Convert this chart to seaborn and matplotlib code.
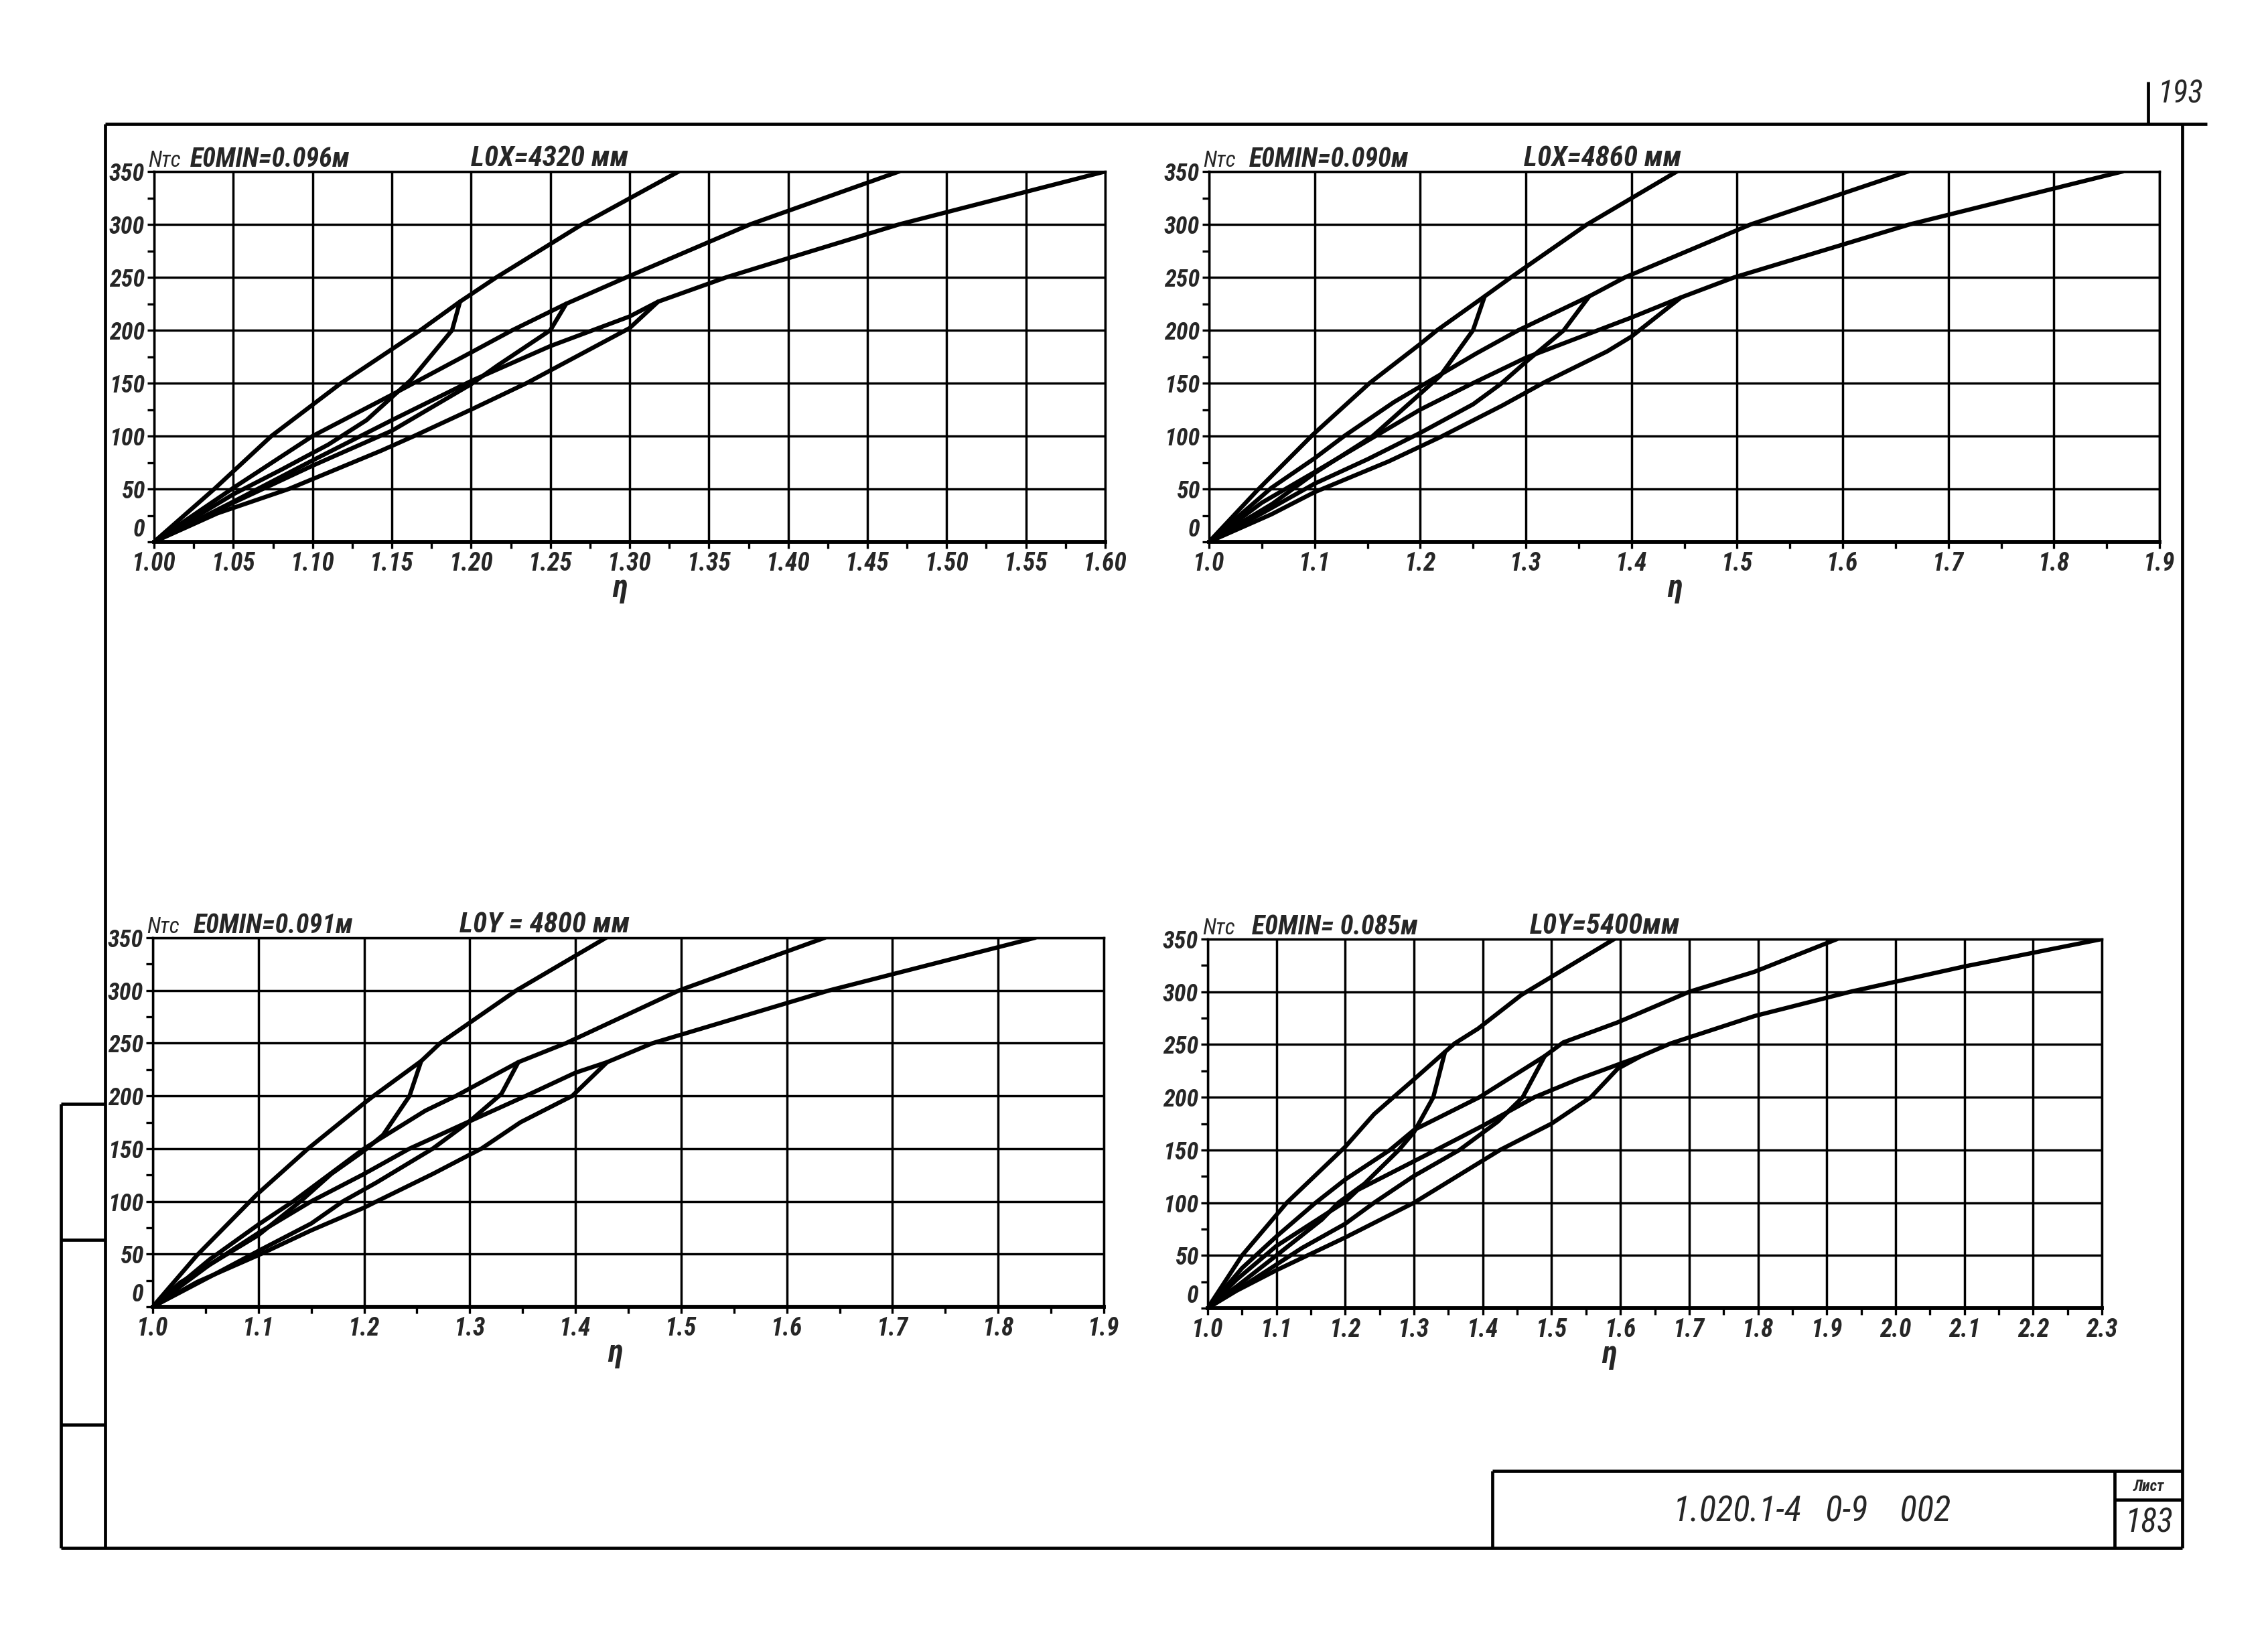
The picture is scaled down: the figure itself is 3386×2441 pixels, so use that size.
import matplotlib
matplotlib.use('Agg')
import numpy as np
import pandas as pd
import matplotlib.pyplot as plt
import seaborn as sns
from matplotlib import font_manager as fm
from matplotlib.ticker import FixedLocator, FormatStrFormatter

sns.set_style('white')

# узкий шрифт, если есть
avail = {f.name for f in fm.fontManager.ttflist}
FONT = 'DejaVu Sans'
for cand in ['Liberation Sans Narrow', 'DejaVu Sans Condensed', 'Roboto Condensed']:
    if cand in avail:
        FONT = cand
        break
plt.rcParams['font.family'] = [FONT, 'DejaVu Sans']

# ---------------- данные (N, тс  vs  eta) ----------------
# панель 1: E0MIN=0.096м, L0X=4320 мм
P1_A_UP_ETA = [1.0, 1.038, 1.074, 1.118, 1.168, 1.193, 1.216, 1.27, 1.331]
P1_A_UP_N = [0, 50, 100, 150, 200, 227, 250, 300, 350]
P1_A_LOW_ETA = [1.0, 1.05, 1.08, 1.11, 1.134, 1.162, 1.188, 1.193]
P1_A_LOW_N = [0, 45, 68, 92, 115, 153, 200, 227]
P1_B_UP_ETA = [1.0, 1.05, 1.10, 1.15, 1.20, 1.226, 1.26, 1.298, 1.376, 1.47]
P1_B_UP_N = [0, 51, 100, 139, 179, 200, 225, 250, 300, 350]
P1_B_LOW_ETA = [1.0, 1.05, 1.10, 1.15, 1.20, 1.217, 1.25, 1.26]
P1_B_LOW_N = [0, 37, 72, 105, 149, 167, 200, 225]
P1_C_UP_ETA = [1.0, 1.05, 1.10, 1.15, 1.20, 1.25, 1.30, 1.318, 1.361, 1.40, 1.47, 1.60]
P1_C_UP_N = [0, 38, 77, 115, 152, 185, 213, 227, 250, 268, 300, 350]
P1_C_LOW_ETA = [1.0, 1.04, 1.085, 1.143, 1.164, 1.20, 1.235, 1.25, 1.30, 1.318]
P1_C_LOW_N = [0, 27, 50, 86, 100, 125, 150, 162, 202, 227]

# панель 2: E0MIN=0.090м, L0X=4860 мм
P2_A_UP_ETA = [1.0, 1.046, 1.098, 1.152, 1.20, 1.216, 1.261, 1.286, 1.358, 1.443]
P2_A_UP_N = [0, 49, 101, 150, 187, 200, 232, 250, 300, 350]
P2_A_LOW_ETA = [1.0, 1.06, 1.10, 1.155, 1.20, 1.219, 1.25, 1.261]
P2_A_LOW_N = [0, 36, 65, 100, 140, 157, 200, 232]
P2_B_UP_ETA = [1.0, 1.059, 1.10, 1.128, 1.175, 1.219, 1.253, 1.293, 1.36, 1.394, 1.513, 1.662]
P2_B_UP_N = [0, 51, 79, 100, 132, 158, 178, 200, 232, 250, 300, 350]
P2_B_LOW_ETA = [1.0, 1.052, 1.10, 1.15, 1.20, 1.25, 1.276, 1.30, 1.336, 1.36]
P2_B_LOW_N = [0, 28, 55, 78, 103, 130, 149, 170, 200, 232]
P2_C_UP_ETA = [1.0, 1.05, 1.10, 1.20, 1.25, 1.30, 1.40, 1.447, 1.4975, 1.6635, 1.865]
P2_C_UP_N = [0, 37, 66, 125, 150, 174, 212, 231, 250, 300, 350]
P2_C_LOW_ETA = [1.0, 1.059, 1.10, 1.17, 1.219, 1.278, 1.318, 1.377, 1.40, 1.447]
P2_C_LOW_N = [0, 26, 47, 76, 99, 129, 151, 180, 194, 231]

# панель 3: E0MIN=0.091м, L0Y=4800 мм
P3_A_UP_ETA = [1.0, 1.042, 1.098, 1.147, 1.20, 1.209, 1.254, 1.272, 1.344, 1.429]
P3_A_UP_N = [0, 49, 106, 150, 193, 200, 233, 250, 300, 350]
P3_A_LOW_ETA = [1.0, 1.026, 1.054, 1.10, 1.141, 1.169, 1.20, 1.218, 1.243, 1.254]
P3_A_LOW_N = [0, 23, 40, 68, 101, 126, 148, 163, 200, 233]
P3_B_UP_ETA = [1.0, 1.054, 1.10, 1.133, 1.20, 1.258, 1.287, 1.346, 1.391, 1.498, 1.636]
P3_B_UP_N = [0, 45, 78, 100, 150, 186, 200, 232, 250, 300, 350]
P3_B_LOW_ETA = [1.0, 1.057, 1.10, 1.15, 1.18, 1.212, 1.265, 1.30, 1.33, 1.346]
P3_B_LOW_N = [0, 30, 53, 79, 100, 118, 150, 176, 202, 232]
P3_C_UP_ETA = [1.0, 1.054, 1.10, 1.15, 1.20, 1.243, 1.30, 1.353, 1.40, 1.43, 1.473, 1.64, 1.835]
P3_C_UP_N = [0, 40, 70, 100, 126, 150, 176, 200, 222, 232, 250, 300, 350]
P3_C_LOW_ETA = [1.0, 1.042, 1.10, 1.15, 1.20, 1.212, 1.265, 1.311, 1.348, 1.397, 1.43]
P3_C_LOW_N = [0, 23.5, 49, 72.5, 94, 100, 126, 150, 175, 200, 232]

# панель 4: E0MIN=0.085м, L0Y=5400 мм
P4_A_UP_ETA = [1.0, 1.05, 1.115, 1.20, 1.242, 1.27, 1.30, 1.345, 1.359, 1.393, 1.456, 1.591]
P4_A_UP_N = [0, 50, 100, 153, 184, 200, 217, 243, 251, 265, 297, 350]
P4_A_LOW_ETA = [1.0, 1.045, 1.10, 1.166, 1.19, 1.228, 1.278, 1.30, 1.328, 1.345]
P4_A_LOW_N = [0, 22, 50, 84, 100, 118, 150, 167, 200, 243]
P4_B_UP_ETA = [1.0, 1.05, 1.10, 1.157, 1.20, 1.265, 1.30, 1.395, 1.49, 1.517, 1.596, 1.70, 1.795, 1.915]
P4_B_UP_N = [0, 38, 68, 100, 122, 150, 169, 200, 239, 252, 271, 300, 319, 350]
P4_B_LOW_ETA = [1.0, 1.066, 1.137, 1.20, 1.242, 1.299, 1.366, 1.422, 1.458, 1.49]
P4_B_LOW_N = [0, 27, 57, 80, 100, 125, 150, 177, 200, 239]
P4_C_UP_ETA = [1.0, 1.042, 1.10, 1.20, 1.218, 1.332, 1.40, 1.475, 1.538, 1.63, 1.673, 1.795, 1.934, 2.10, 2.30]
P4_C_UP_N = [0, 27, 59, 101, 112, 150, 173, 200, 217, 239, 251, 277, 300, 324, 350]
P4_C_LOW_ETA = [1.0, 1.042, 1.10, 1.20, 1.30, 1.425, 1.50, 1.557, 1.596, 1.63]
P4_C_LOW_N = [0, 16.5, 36, 67, 100, 150, 175, 200, 227, 239]

# подписи
P1_TICKS = np.round(np.arange(1.0, 1.6001, 0.05), 2)
P2_TICKS = np.round(np.arange(1.0, 1.9001, 0.1), 1)
P3_TICKS = np.round(np.arange(1.0, 1.9001, 0.1), 1)
P4_TICKS = np.round(np.arange(1.0, 2.3001, 0.1), 1)
Y_TICKS = [0, 50, 100, 150, 200, 250, 300, 350]

W, H = 3386, 2441
fig = plt.figure(figsize=(W / 100, H / 100), dpi=100)
fig.patch.set_facecolor('white')


def make_df(curves):
    rows = []
    for name, xs, ys in curves:
        for x, y in zip(xs, ys):
            rows.append((name, x, y))
    return pd.DataFrame(rows, columns=['curve', 'eta', 'N'])


def panel(px, curves, ticks, fmt, e0, l0, e0_pos, l0_pos, eta_pos):
    x0, yt, x1, yb = px
    ax = fig.add_axes([x0 / W, 1 - yb / H, (x1 - x0) / W, (yb - yt) / H])
    df = make_df(curves)
    sns.lineplot(data=df, x='eta', y='N', units='curve', estimator=None, sort=False,
                 color='black', lw=4.6, ax=ax, legend=False, zorder=3,
                 solid_joinstyle='round', solid_capstyle='round')
    step = ticks[1] - ticks[0]
    ax.set_xlim(ticks[0], ticks[-1])
    ax.set_ylim(0, 350)
    ax.xaxis.set_major_locator(FixedLocator(ticks))
    ax.xaxis.set_minor_locator(FixedLocator(np.round(ticks[:-1] + step / 2, 3)))
    ax.yaxis.set_major_locator(FixedLocator(Y_TICKS))
    ax.yaxis.set_minor_locator(FixedLocator([25, 75, 125, 175, 225, 275, 325]))
    ax.xaxis.set_major_formatter(FormatStrFormatter(fmt))
    ax.grid(which='major', color='black', lw=2.5, zorder=1)
    ax.set_xlabel('')
    ax.set_ylabel('')
    for s in ax.spines.values():
        s.set_color('black')
        s.set_linewidth(2.5)
    ax.spines['bottom'].set_linewidth(4.2)
    ax.tick_params(which='both', direction='out', color='black', width=2.4,
                   length=7, bottom=True, left=True, top=False, right=False)
    ax.tick_params(axis='x', which='major', labelsize=27, pad=3)
    ax.tick_params(axis='y', which='major', labelsize=26, pad=3)
    for lbl in ax.get_xticklabels() + ax.get_yticklabels():
        lbl.set_fontstyle('italic')
        lbl.set_fontweight('bold')
    # "0" чуть выше, чтобы не налезал на первую подпись оси x
    ax.yaxis.get_major_ticks()[0].label1.set_verticalalignment('bottom')
    ax.text(-0.006, 1.0, 'Nтс', transform=ax.transAxes, ha='left', va='bottom',
            fontsize=24, style='italic')
    ax.text(e0_pos, 0.998, e0, transform=ax.transAxes, ha='center', va='bottom',
            fontsize=29, style='italic', fontweight='bold')
    ax.text(l0_pos, 0.998, l0, transform=ax.transAxes, ha='center', va='bottom',
            fontsize=31, style='italic', fontweight='bold')
    ax.text(eta_pos, -0.125, 'η', transform=ax.transAxes, ha='center', va='center',
            fontsize=34, style='italic', fontweight='bold')
    return ax


panel((230, 256, 1650, 809),
      [('A_up', P1_A_UP_ETA, P1_A_UP_N), ('A_low', P1_A_LOW_ETA, P1_A_LOW_N),
       ('B_up', P1_B_UP_ETA, P1_B_UP_N), ('B_low', P1_B_LOW_ETA, P1_B_LOW_N),
       ('C_up', P1_C_UP_ETA, P1_C_UP_N), ('C_low', P1_C_LOW_ETA, P1_C_LOW_N)],
      P1_TICKS, '%.2f', 'E0MIN=0.096м', 'L0X=4320 мм', 0.122, 0.416, 0.49)

panel((1805, 256, 3224, 809),
      [('A_up', P2_A_UP_ETA, P2_A_UP_N), ('A_low', P2_A_LOW_ETA, P2_A_LOW_N),
       ('B_up', P2_B_UP_ETA, P2_B_UP_N), ('B_low', P2_B_LOW_ETA, P2_B_LOW_N),
       ('C_up', P2_C_UP_ETA, P2_C_UP_N), ('C_low', P2_C_LOW_ETA, P2_C_LOW_N)],
      P2_TICKS, '%.1f', 'E0MIN=0.090м', 'L0X=4860 мм', 0.126, 0.414, 0.49)

panel((228, 1400, 1648, 1951),
      [('A_up', P3_A_UP_ETA, P3_A_UP_N), ('A_low', P3_A_LOW_ETA, P3_A_LOW_N),
       ('B_up', P3_B_UP_ETA, P3_B_UP_N), ('B_low', P3_B_LOW_ETA, P3_B_LOW_N),
       ('C_up', P3_C_UP_ETA, P3_C_UP_N), ('C_low', P3_C_LOW_ETA, P3_C_LOW_N)],
      P3_TICKS, '%.1f', 'E0MIN=0.091м', 'L0Y = 4800 мм', 0.127, 0.412, 0.486)

panel((1803, 1402, 3138, 1953),
      [('A_up', P4_A_UP_ETA, P4_A_UP_N), ('A_low', P4_A_LOW_ETA, P4_A_LOW_N),
       ('B_up', P4_B_UP_ETA, P4_B_UP_N), ('B_low', P4_B_LOW_ETA, P4_B_LOW_N),
       ('C_up', P4_C_UP_ETA, P4_C_UP_N), ('C_low', P4_C_LOW_ETA, P4_C_LOW_N)],
      P4_TICKS, '%.1f', 'E0MIN= 0.085м', 'L0Y=5400мм', 0.142, 0.444, 0.449)

# ---------------- рамка листа и штамп ----------------
fr = fig.add_axes([0, 0, 1, 1], zorder=5)
fr.set_xlim(0, W)
fr.set_ylim(H, 0)
fr.axis('off')
fr.patch.set_alpha(0)
LW = 3.4
frame_lines = [
    ((157, 3295), (185, 185)),       # верх
    ((157, 157), (185, 2311)),       # лево
    ((3258, 3258), (185, 2311)),     # право
    ((91, 3258), (2311, 2311)),      # низ
    ((3207, 3207), (122, 185)),      # номер страницы
    ((91, 91), (1648, 2311)),        # боковая полоса
    ((91, 157), (1648, 1648)),
    ((91, 157), (1851, 1851)),
    ((91, 157), (2127, 2127)),
    ((2228, 3258), (2196, 2196)),    # штамп
    ((2228, 2228), (2196, 2311)),
    ((3157, 3157), (2196, 2311)),
    ((3157, 3258), (2239, 2239)),
]
for xs, ys in frame_lines:
    fr.plot(xs, ys, color='black', lw=LW, solid_capstyle='butt')

fr.text(3255, 141, '193', ha='center', va='center', fontsize=34, style='italic')
fr.text(2705, 2257, '1.020.1-4   0-9    002', ha='center', va='center',
        fontsize=38, style='italic')
fr.text(3208, 2219, 'Лист', ha='center', va='center', fontsize=17, style='italic',
        fontweight='bold')
fr.text(3208, 2274, '183', ha='center', va='center', fontsize=36, style='italic')

fig.savefig('out.png', dpi=100, facecolor='white')
